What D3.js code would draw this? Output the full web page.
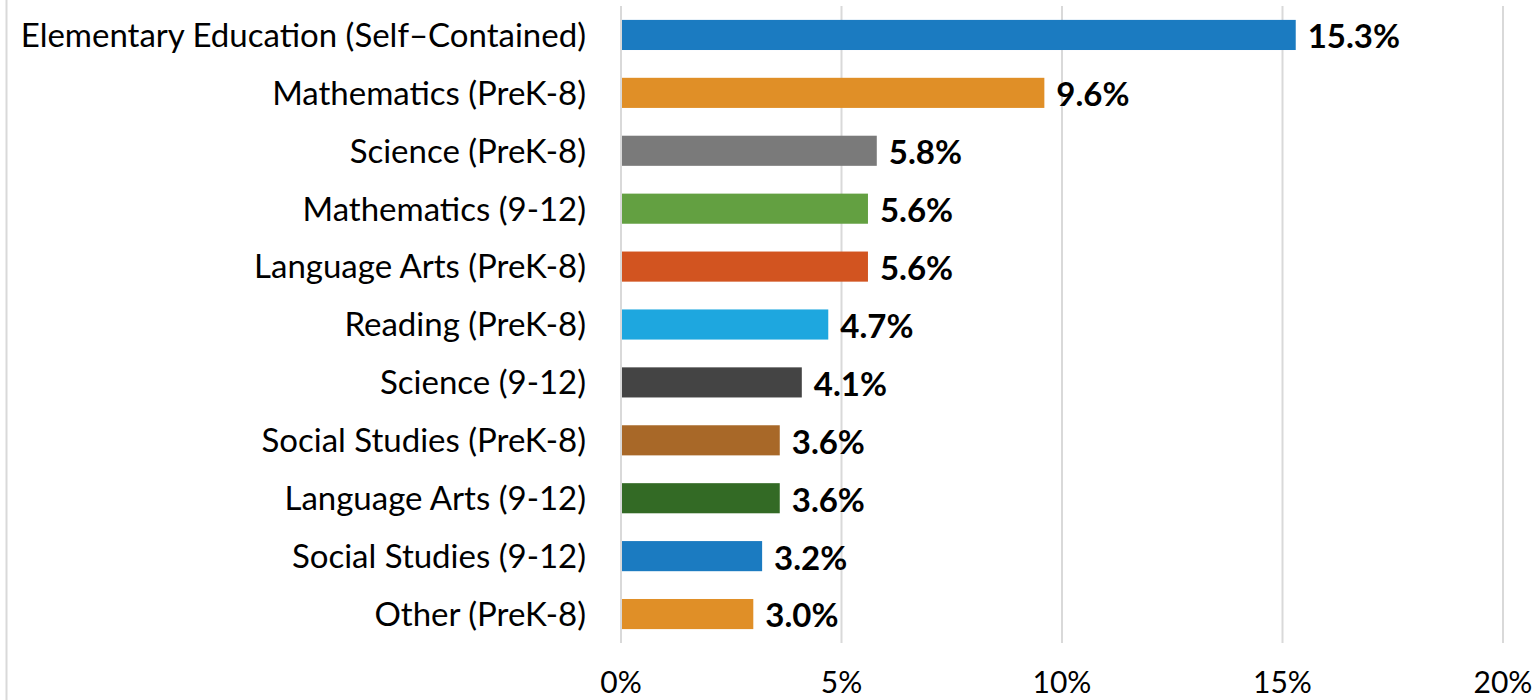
<!DOCTYPE html>
<html>
<head>
<meta charset="utf-8">
<script src="https://cdn.jsdelivr.net/npm/d3@7"></script>
<style>
  body { margin: 0; background: #fff; }
  svg { display: block; font-family: Lato, "Open Sans", sans-serif; }
</style>
</head>
<body>
<div id="chart"></div>
<script>
// Categories top to bottom
const categories = [
    "Elementary Education (Self\u2013Contained)",
    "Mathematics (PreK-8)",
    "Science (PreK-8)",
    "Mathematics (9-12)",
    "Language Arts (PreK-8)",
    "Reading (PreK-8)",
    "Science (9-12)",
    "Social Studies (PreK-8)",
    "Language Arts (9-12)",
    "Social Studies (9-12)",
    "Other (PreK-8)"
];
const values = [15.3, 9.6, 5.8, 5.6, 5.6, 4.7, 4.1, 3.6, 3.6, 3.2, 3.0];
const colors = ["#1b7bc1", "#e08f27", "#7a7a7a", "#63a041", "#d25420", "#1ea7df",
                "#444444", "#a86828", "#336a25", "#1b7bc1", "#e08f27"];
const ticks = [0, 5, 10, 15, 20];

const width = 1538, height = 700;
const margin = { top: 6, right: 35, bottom: 57, left: 621 };

const svg = d3.select("#chart").append("svg")
    .attr("width", width)
    .attr("height", height);

// Left border of the frame
svg.append("line")
    .attr("x1", 6.5).attr("x2", 6.5)
    .attr("y1", 0).attr("y2", height)
    .attr("stroke", "#d9d9d9")
    .attr("stroke-width", 2);

const x = d3.scaleLinear()
    .domain([0, 20])
    .range([margin.left, width - margin.right]);

const y = d3.scaleBand()
    .domain(categories)
    .range([margin.top, height - margin.bottom])
    .paddingInner(0.48)
    .paddingOuter(0.24);

// Gridlines
svg.append("g")
    .selectAll("line")
    .data(ticks)
    .enter().append("line")
    .attr("x1", d => x(d)).attr("x2", d => x(d))
    .attr("y1", margin.top).attr("y2", height - margin.bottom)
    .attr("stroke", "#d9d9d9")
    .attr("stroke-width", 2);

// Tick labels
svg.append("g")
    .selectAll("text")
    .data(ticks)
    .enter().append("text")
    .attr("x", d => x(d))
    .attr("y", 693)
    .attr("text-anchor", "middle")
    .attr("font-size", 30)
    .attr("fill", "#000")
    .text(d => d + "%");

// Bars
svg.append("g")
    .selectAll("rect")
    .data(values)
    .enter().append("rect")
    .attr("x", x(0) + 1)
    .attr("y", (d, i) => y(categories[i]))
    .attr("width", d => x(d) - x(0) - 1)
    .attr("height", y.bandwidth())
    .attr("fill", (d, i) => colors[i]);

// Category labels
svg.append("g")
    .selectAll("text")
    .data(categories)
    .enter().append("text")
    .attr("x", 586)
    .attr("y", d => y(d) + y.bandwidth() / 2)
    .attr("dy", "0.36em")
    .attr("text-anchor", "end")
    .attr("font-size", 33)
    .attr("fill", "#000")
    .text(d => d);

// Value labels
svg.append("g")
    .selectAll("text")
    .data(values)
    .enter().append("text")
    .attr("x", d => x(d) + 12)
    .attr("y", (d, i) => y(categories[i]) + y.bandwidth() / 2 + 1.5)
    .attr("dy", "0.36em")
    .attr("font-size", 33)
    .attr("font-weight", "bold")
    .attr("fill", "#000")
    .text(d => d.toFixed(1) + "%");
</script>
</body>
</html>
